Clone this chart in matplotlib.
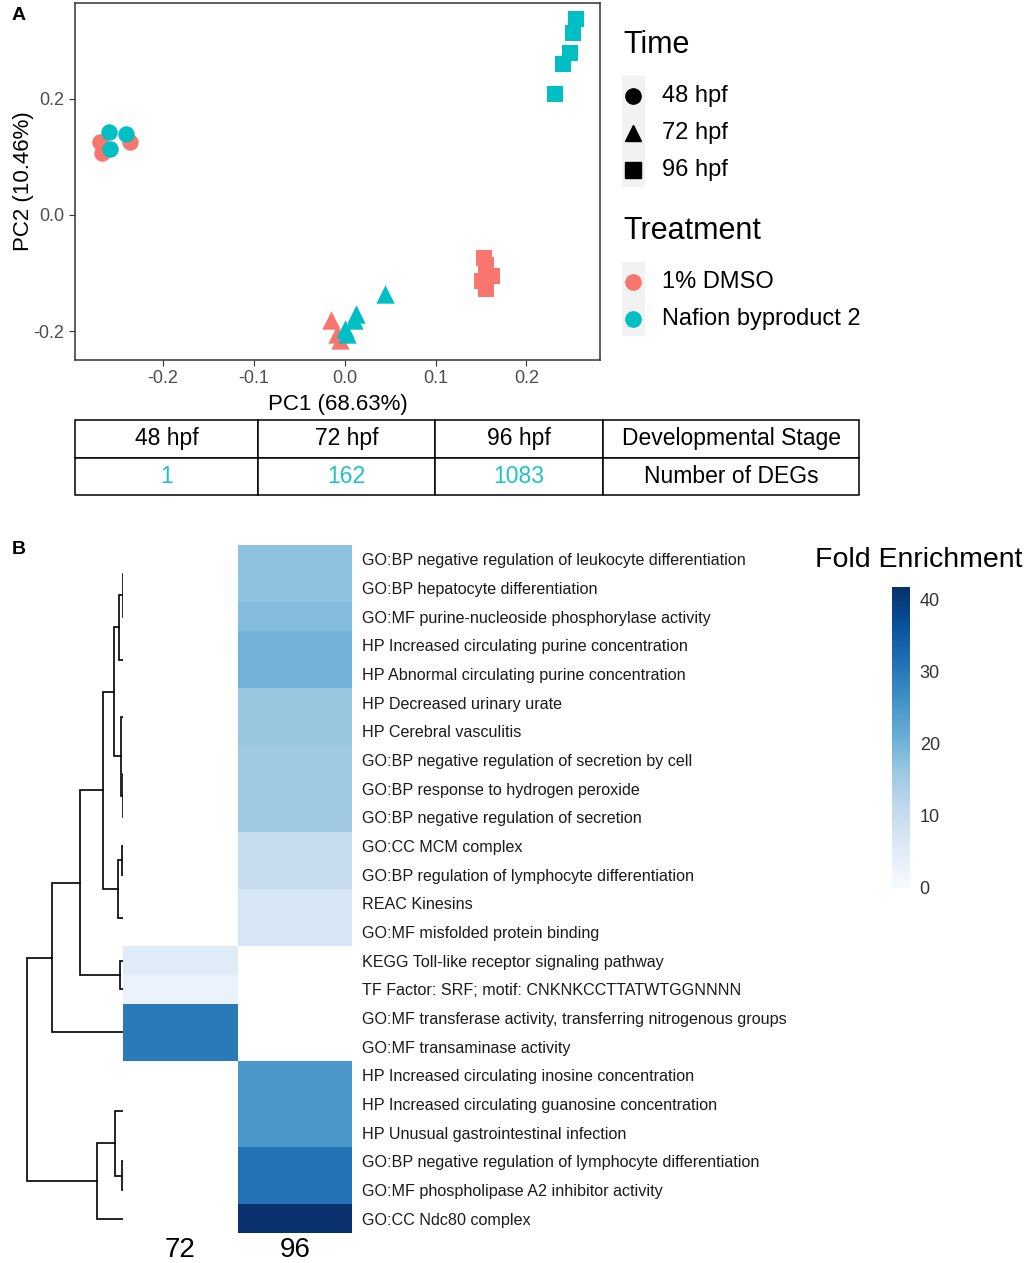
import numpy as np
import matplotlib.pyplot as plt
from matplotlib.lines import Line2D
from matplotlib.patches import Rectangle
from matplotlib.ticker import FormatStrFormatter

plt.rcParams['font.family'] = ['Liberation Sans', 'DejaVu Sans']
plt.rcParams['axes.unicode_minus'] = False

W, H = 1024, 1263


# PCA scores
dmso_48_pc1 = [-0.270, -0.267, -0.2365]
dmso_48_pc2 = [0.125, 0.107, 0.126]
naf_48_pc1 = [-0.260, -0.259, -0.241]
naf_48_pc2 = [0.143, 0.113, 0.139]
dmso_72_pc1 = [-0.015, -0.008, -0.005]
dmso_72_pc2 = [-0.180, -0.205, -0.215]
naf_72_pc1 = [0.044, 0.012, 0.010, 0.000, 0.003]
naf_72_pc2 = [-0.136, -0.170, -0.181, -0.196, -0.204]
dmso_96_pc1 = [0.1535, 0.155, 0.162, 0.151, 0.156]
dmso_96_pc2 = [-0.073, -0.086, -0.104, -0.113, -0.127]
naf_96_pc1 = [0.231, 0.240, 0.248, 0.251, 0.255]
naf_96_pc2 = [0.2075, 0.259, 0.279, 0.313, 0.336]

times = ['48 hpf', '72 hpf', '96 hpf']
treatments = ['1% DMSO', 'Nafion byproduct 2']

# DEG table
stages = ['48 hpf', '72 hpf', '96 hpf']
n_degs = [1, 162, 1083]

# enrichment heatmap
terms = [
    'GO:BP negative regulation of leukocyte differentiation',
    'GO:BP hepatocyte differentiation',
    'GO:MF purine-nucleoside phosphorylase activity',
    'HP Increased circulating purine concentration',
    'HP Abnormal circulating purine concentration',
    'HP Decreased urinary urate',
    'HP Cerebral vasculitis',
    'GO:BP negative regulation of secretion by cell',
    'GO:BP response to hydrogen peroxide',
    'GO:BP negative regulation of secretion',
    'GO:CC MCM complex',
    'GO:BP regulation of lymphocyte differentiation',
    'REAC Kinesins',
    'GO:MF misfolded protein binding',
    'KEGG Toll-like receptor signaling pathway',
    'TF Factor: SRF; motif: CNKNKCCTTATWTGGNNNN',
    'GO:MF transferase activity, transferring nitrogenous groups',
    'GO:MF transaminase activity',
    'HP Increased circulating inosine concentration',
    'HP Increased circulating guanosine concentration',
    'HP Unusual gastrointestinal infection',
    'GO:BP negative regulation of lymphocyte differentiation',
    'GO:MF phospholipase A2 inhibitor activity',
    'GO:CC Ndc80 complex',
]
nan = np.nan
fe_72 = [nan] * 14 + [5.2, 2.9, 29.9, 29.9] + [nan] * 6
fe_96 = [17.2, 17.2, 18.2, 20.2, 20.2, 16.4, 16.4, 15.6, 15.6, 15.6,
         10.4, 10.4, 6.9, 6.9, nan, nan, nan, nan,
         25.1, 25.1, 25.1, 30.9, 30.9, 41.5]
hour_labels = ['72', '96']

# row dendrogram: (child a, child b, height); leaves 0-23, new nodes from 24
merges = [(0, 1, 0.0), (24, 2, 0.3), (3, 4, 0.0), (25, 26, 3.7),
          (5, 6, 0.0), (7, 8, 0.0), (29, 9, 0.3), (28, 30, 2.3),
          (27, 31, 8.7), (10, 11, 1.3), (12, 13, 0.0), (33, 34, 4.7),
          (32, 35, 20.3), (14, 15, 3.0), (36, 37, 43.0), (16, 17, 0.0),
          (38, 39, 70.7), (18, 19, 0.0), (41, 20, 0.0), (21, 22, 1.3),
          (42, 43, 8.0), (44, 23, 25.7), (40, 45, 95.7)]


def rect(l, t, r, b):
    return [l / W, 1 - b / H, (r - l) / W, (b - t) / H]


def fpos(x, y):
    return x / W, 1 - y / H


fig = plt.figure(figsize=(W / 100, H / 100), dpi=100)

# ---------------- panel A: PCA ----------------
colors = ['#F8766D', '#00BFC4']
markers = ['o', '^', 's']
sizes = [140, 175, 125]
groups = [
    (dmso_48_pc1, dmso_48_pc2, 0, 0), (naf_48_pc1, naf_48_pc2, 1, 0),
    (dmso_72_pc1, dmso_72_pc2, 0, 1), (naf_72_pc1, naf_72_pc2, 1, 1),
    (dmso_96_pc1, dmso_96_pc2, 0, 2), (naf_96_pc1, naf_96_pc2, 1, 2),
]

ax = fig.add_axes(rect(75, 3, 600, 360))
for xs, ys, tr, tm in groups:
    ax.scatter(xs, ys, marker=markers[tm], s=sizes[tm], color=colors[tr],
               linewidths=0, zorder=3)
ax.set_xlim(-0.297, 0.281)
ax.set_ylim(-0.249, 0.364)
ax.set_xticks([-0.2, -0.1, 0.0, 0.1, 0.2])
ax.set_yticks([-0.2, 0.0, 0.2])
ax.xaxis.set_major_formatter(FormatStrFormatter('%.1f'))
ax.yaxis.set_major_formatter(FormatStrFormatter('%.1f'))
ax.tick_params(labelsize=13, labelcolor='#4D4D4D', color='#333333',
               length=4, width=0.8)
for sp in ax.spines.values():
    sp.set_color('#333333')
    sp.set_linewidth(1.1)
ax.set_xlabel('PC1 (68.63%)', fontsize=16, labelpad=5)
ax.set_ylabel('PC2 (10.46%)', fontsize=16, labelpad=0)


# legends, drawn like the ggplot guide
def guide(title, labels, mks, cols, ytitle):
    fig.text(*fpos(623, ytitle), title, fontsize=22, va='center')
    y0 = ytitle + 51
    step = 37
    fig.add_artist(Rectangle(fpos(622, y0 + step * (len(labels) - 1) + 16),
                             22 / W, (step * (len(labels) - 1) + 36) / H,
                             transform=fig.transFigure, color='#F2F2F2',
                             zorder=0))
    for i, lab in enumerate(labels):
        y = y0 + i * step
        fig.add_artist(Line2D([633 / W], [1 - y / H], marker=mks[i],
                              markersize=11, color=cols[i], linestyle='none',
                              transform=fig.transFigure))
        fig.text(*fpos(662, y), lab, fontsize=17, va='center')


guide('Time', times, markers, ['black'] * 3, 45)
guide('Treatment', treatments, ['o', 'o'], colors, 231)

# DEG table
tab = fig.add_axes(rect(75, 420, 859, 495))
tab.axis('off')
cells = [stages + ['Developmental Stage'],
         [str(n) for n in n_degs] + ['Number of DEGs']]
widths = [183, 177, 168, 256]
tbl = tab.table(cellText=cells, bbox=[0, 0, 1, 1], cellLoc='center',
                colWidths=[w / sum(widths) for w in widths])
tbl.auto_set_font_size(False)
tbl.set_fontsize(16.5)
for (r, c), cell in tbl.get_celld().items():
    cell.set_linewidth(1.1)
    if r == 1 and c < 3:
        cell.get_text().set_color('#1FC3C7')

fig.text(*fpos(12, 16), 'A', fontsize=14, fontweight='bold', va='center')

# ---------------- panel B: enrichment heatmap ----------------
n = len(terms)
vals = np.ma.masked_invalid(np.column_stack([fe_72, fe_96]))
hm = fig.add_axes(rect(123, 545, 352, 1233))
mesh = hm.pcolormesh(vals, cmap='Blues', vmin=0, vmax=41.8)
hm.set_ylim(n, 0)
hm.set_xlim(0, 2)
hm.set_yticks(np.arange(n) + 0.5)
hm.set_yticklabels(terms, fontsize=11.6, color='#1a1a1a')
hm.yaxis.tick_right()
hm.set_xticks([0.5, 1.5])
hm.set_xticklabels(hour_labels, fontsize=20)
hm.tick_params(length=0)
hm.tick_params(axis='y', pad=7)
hm.tick_params(axis='x', pad=3)
for sp in hm.spines.values():
    sp.set_visible(False)

# dendrogram (links at zero height sit on the heatmap edge and are not drawn)
dg = fig.add_axes(rect(20, 545, 123, 1233))
pos = {i: (i + 0.5, 0.0) for i in range(n)}
for k, (a, b, h) in enumerate(merges):
    ya, ha = pos[a]
    yb, hb = pos[b]
    if h > 0:
        dg.plot([ha, h, h, hb], [ya, ya, yb, yb], color='black', lw=1.2,
                solid_joinstyle='miter')
    pos[n + k] = ((ya + yb) / 2, h)
dg.set_ylim(n, 0)
dg.set_xlim(merges[-1][2] * 103 / 95.7, 0)
dg.axis('off')

# colour bar
cax = fig.add_axes(rect(892, 587, 910, 888))
cb = fig.colorbar(mesh, cax=cax, ticks=[0, 10, 20, 30, 40])
cb.outline.set_visible(False)
cax.tick_params(length=0, labelsize=13, labelcolor='#333333', pad=7)
fig.text(*fpos(815, 560), 'Fold Enrichment', fontsize=20.5, va='center')

fig.text(*fpos(12, 549), 'B', fontsize=14, fontweight='bold', va='center')

fig.savefig('out.png', dpi=100)
